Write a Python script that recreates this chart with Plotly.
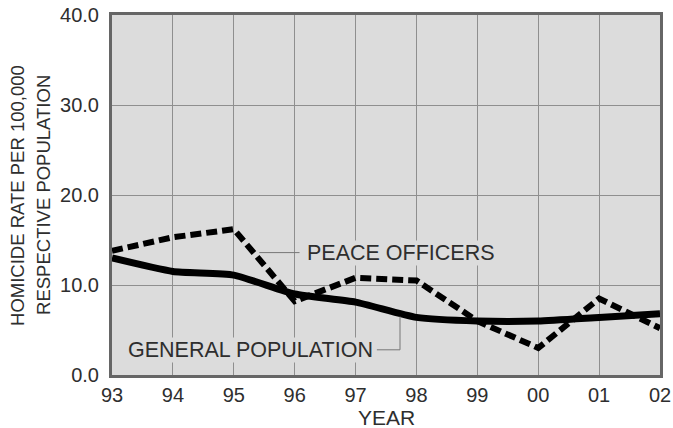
import plotly.graph_objects as go

years = ["93", "94", "95", "96", "97", "98", "99", "00", "01", "02"]
peace_officers = [13.8, 15.3, 16.2, 8.2, 10.8, 10.5, 6.0, 3.0, 8.5, 5.2]
general_population = [13.0, 11.5, 11.1, 9.0, 8.1, 6.4, 6.0, 6.0, 6.4, 6.8]
y_ticks = [0, 10, 20, 30, 40]

FONT = "Liberation Sans, Arial, Helvetica, sans-serif"
TXT = "#2e2e2e"
BG = "#dcdcdc"

fig = go.Figure()
fig.add_trace(go.Scatter(
    x=years, y=general_population, mode="lines",
    line=dict(color="#000000", width=7, shape="spline", smoothing=0.5),
    showlegend=False, hoverinfo="skip"))
fig.add_trace(go.Scatter(
    x=years, y=peace_officers, mode="lines",
    line=dict(color="#000000", width=6, dash="11px,5px"),
    showlegend=False, hoverinfo="skip"))

# leader lines
fig.add_shape(type="line", xref="x", yref="y", x0=2.42, y0=13.6, x1=3.08, y1=13.6,
              line=dict(color="#777777", width=1))
fig.add_shape(type="path", xref="x", yref="y",
              path="M 4.35 2.8 L 4.73 2.8 L 4.73 6.5",
              line=dict(color="#777777", width=1))

fig.add_annotation(x=4.75, y=13.6, xref="x", yref="y", text="PEACE OFFICERS",
                   showarrow=False, font=dict(family=FONT, size=21.5, color=TXT),
                   bgcolor=BG, borderpad=0)
fig.add_annotation(x=2.27, y=2.8, xref="x", yref="y", text="GENERAL POPULATION",
                   showarrow=False, font=dict(family=FONT, size=21.5, color=TXT),
                   bgcolor=BG, borderpad=0)

fig.add_annotation(x=-0.1734, y=0.5, xref="paper", yref="paper",
                   text="HOMICIDE RATE PER 100,000",
                   textangle=-90, showarrow=False, xanchor="center", yanchor="middle",
                   font=dict(family=FONT, size=18.5, color=TXT))
fig.add_annotation(x=-0.126, y=0.5, xref="paper", yref="paper",
                   text="RESPECTIVE POPULATION",
                   textangle=-90, showarrow=False, xanchor="center", yanchor="middle",
                   font=dict(family=FONT, size=18.5, color=TXT))
fig.add_annotation(x=0.5, y=-0.119, xref="paper", yref="paper", text="YEAR",
                   showarrow=False, xanchor="center", yanchor="middle",
                   font=dict(family=FONT, size=21, color=TXT))

fig.update_xaxes(type="category", range=[0, 9], showgrid=True, gridcolor="#8f8f8f",
                 gridwidth=1, showline=True, mirror=True, linecolor="#666666",
                 linewidth=3, zeroline=False, ticks="", ticklabelstandoff=0,
                 automargin=False,
                 tickfont=dict(family=FONT, size=20, color=TXT))
fig.update_yaxes(range=[0, 40], tickvals=y_ticks, tickformat=".1f", showgrid=True,
                 gridcolor="#8f8f8f", gridwidth=1, showline=True, mirror=True,
                 linecolor="#666666", linewidth=3, zeroline=False, ticks="",
                 ticklabelstandoff=6, automargin=False,
                 tickfont=dict(family=FONT, size=20, color=TXT))

fig.update_layout(width=673, height=428, margin=dict(l=112, r=13, t=15, b=53),
                  plot_bgcolor=BG, paper_bgcolor="#ffffff")
fig.write_html("out.html", config={"displayModeBar": False},
               post_script="document.body.style.margin='0';")
